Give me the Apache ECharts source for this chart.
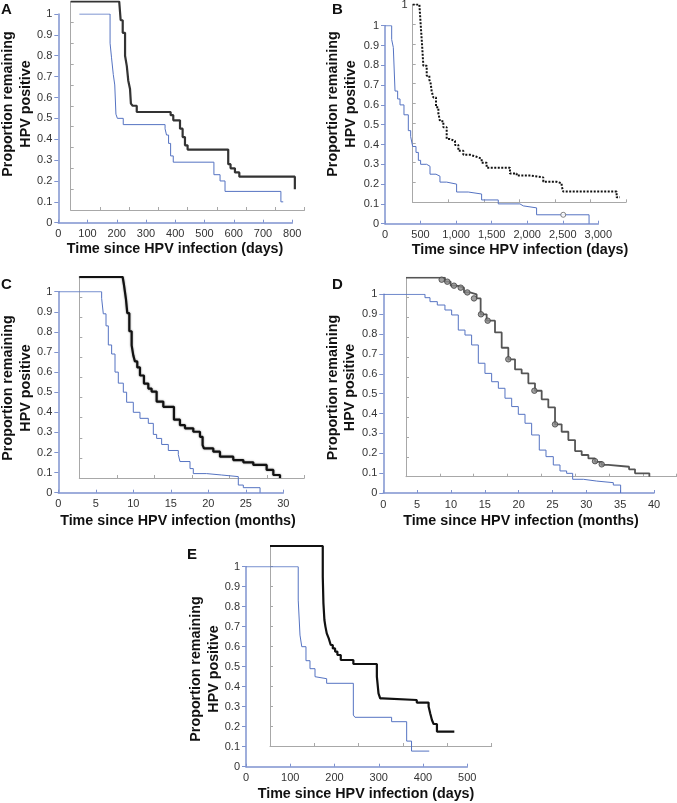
<!DOCTYPE html>
<html><head><meta charset="utf-8">
<script src="https://cdn.jsdelivr.net/npm/echarts@6/dist/echarts.min.js"></script>
<style>html,body{margin:0;padding:0;background:#fff}#c{width:677px;height:803px}</style>
</head><body><div id="c"></div>
<script>
// ---------- DATA ----------
// Panel A (days)
const aBlueT  = [72, 177, 182, 188, 193, 197, 202, 222, 365, 370, 377, 384, 393, 532, 553, 570, 761, 769];
const aBlueS  = [1.00, 0.86, 0.79, 0.71, 0.66, 0.52, 0.50, 0.47, 0.45, 0.42, 0.38, 0.32, 0.29, 0.23, 0.20, 0.15, 0.10, 0.10];
const aBlackT = [0, 166, 171, 178, 186, 192, 197, 203, 206, 212, 226, 342, 351, 374, 383, 391, 400, 539, 547, 562, 577, 767];
const aBlackS = [1.00, 1.00, 0.91, 0.85, 0.74, 0.69, 0.62, 0.58, 0.51, 0.50, 0.47, 0.455, 0.43, 0.39, 0.35, 0.31, 0.29, 0.22, 0.20, 0.18, 0.16, 0.10];
// Panel B (days)
const bBlueT  = [0, 94, 117, 141, 178, 211, 267, 328, 361, 389, 436, 469, 501, 586, 633, 717, 773, 867, 1007, 1171, 1359, 1593, 1898, 1945, 2132, 2870];
const bBlueS  = [1.00, 0.93, 0.89, 0.67, 0.63, 0.60, 0.55, 0.47, 0.44, 0.39, 0.36, 0.32, 0.30, 0.29, 0.25, 0.24, 0.21, 0.20, 0.16, 0.15, 0.12, 0.10, 0.09, 0.08, 0.045, 0];
const bCensT  = [2507];
const bCensS  = [0.045];
const bBlackT = [0, 94, 112, 131, 150, 197, 234, 253, 267, 291, 328, 361, 384, 431, 478, 525, 595, 642, 712, 806, 900, 970, 1040, 1368, 1462, 1649, 1837, 2024, 2095, 2118, 2868, 2915];
const bBlackS = [1.00, 1.00, 0.90, 0.80, 0.69, 0.64, 0.62, 0.60, 0.56, 0.53, 0.48, 0.45, 0.41, 0.38, 0.32, 0.31, 0.29, 0.26, 0.24, 0.23, 0.22, 0.20, 0.175, 0.146, 0.135, 0.126, 0.104, 0.096, 0.082, 0.054, 0.025, 0.025];
// Panel C (months)
const cBlueT  = [0, 5.78, 6.0, 6.36, 6.67, 7.11, 7.56, 8.0, 8.67, 9.11, 10.0, 10.89, 12.0, 12.67, 13.11, 13.78, 14.67, 16.0, 16.22, 17.56, 18.0, 19.78, 21.78, 24.0, 24.67, 26.9];
const cBlueS  = [1.00, 0.967, 0.89, 0.83, 0.735, 0.69, 0.60, 0.545, 0.50, 0.45, 0.40, 0.37, 0.345, 0.29, 0.27, 0.24, 0.21, 0.19, 0.155, 0.12, 0.095, 0.088, 0.08, 0.038, 0.025, 0];
const cBlackT = [0, 5.78, 5.96, 6.22, 6.4, 6.67, 6.98, 7.2, 7.42, 7.73, 8.09, 8.62, 9.2, 9.64, 10.31, 11.2, 12.62, 13.42, 14.09, 15.2, 16.09, 16.44, 16.62, 17.87, 18.76, 20.53, 21.87, 23.2, 24.98, 25.87, 26.76];
const cBlackS = [1.00, 1.00, 0.96, 0.89, 0.82, 0.73, 0.66, 0.61, 0.58, 0.55, 0.51, 0.47, 0.445, 0.43, 0.38, 0.354, 0.29, 0.263, 0.247, 0.23, 0.205, 0.164, 0.147, 0.131, 0.106, 0.089, 0.078, 0.065, 0.04, 0.015, 0.0];
// Panel D (months)
const dBlueT  = [0, 6.16, 6.9, 7.98, 9.11, 10.1, 11.08, 12.07, 13.05, 14.04, 15.02, 16.01, 17.0, 17.98, 18.97, 19.95, 20.94, 21.92, 23.05, 24.04, 25.12, 26.11, 27.09, 27.98, 29.56, 31.53, 33.99, 35.07];
const dBlueS  = [1.00, 0.983, 0.963, 0.946, 0.921, 0.896, 0.82, 0.795, 0.745, 0.653, 0.602, 0.56, 0.527, 0.477, 0.435, 0.396, 0.351, 0.292, 0.216, 0.183, 0.141, 0.111, 0.099, 0.069, 0.06, 0.052, 0.04, 0];
const dBlackT = [0, 5.76, 6.6, 7.49, 8.57, 9.46, 10.44, 11.03, 11.92, 13.15, 14.14, 15.12, 16.11, 17.09, 18.08, 19.06, 20.05, 21.03, 22.02, 23.0, 23.99, 24.98, 25.96, 26.95, 27.93, 28.92, 29.9, 32.96, 33.84, 35.96];
const dBlackS = [1.0, 0.98, 0.96, 0.95, 0.926, 0.916, 0.896, 0.816, 0.784, 0.725, 0.648, 0.59, 0.539, 0.519, 0.469, 0.432, 0.389, 0.348, 0.263, 0.226, 0.184, 0.129, 0.109, 0.092, 0.075, 0.059, 0.05, 0.037, 0.017, 0];
const dCensT  = [5.27, 6.1, 7.09, 8.08, 9.06, 10.05, 11.08, 12.07, 15.12, 18.97, 22.02, 27.93, 28.92];
const dCensS  = [0.99, 0.98, 0.96, 0.95, 0.926, 0.896, 0.816, 0.784, 0.59, 0.432, 0.263, 0.078, 0.062];
// Panel E (days)
const eBlueT  = [0, 118, 122, 126, 135.5, 144.6, 155.9, 159.6, 182.2, 242.5, 246.2, 329, 363, 374, 414];
const eBlueS  = [1.0, 0.833, 0.658, 0.60, 0.53, 0.49, 0.45, 0.44, 0.417, 0.258, 0.247, 0.225, 0.128, 0.078, 0.078];
const eBlackT = [0, 119, 120.5, 122.7, 125, 128, 132.5, 137, 141.6, 146.8, 152, 159.6, 188, 241, 244.7, 248.5, 253.8, 331, 357.7, 361.4, 365.2, 369, 376.5, 415.7];
const eBlackS = [1.0, 0.847, 0.713, 0.63, 0.597, 0.563, 0.538, 0.505, 0.488, 0.472, 0.455, 0.43, 0.41, 0.347, 0.263, 0.238, 0.23, 0.217, 0.197, 0.163, 0.13, 0.11, 0.072, 0.072];

const panelLetters = ['A', 'B', 'C', 'D', 'E'];
const yTitle1 = 'Proportion remaining';
const yTitle2 = 'HPV positive';
const xTitleDays = 'Time since HPV infection (days)';
const xTitleMonths = 'Time since HPV infection (months)';
const xMax = [800, 3000, 30, 40, 500];
const xStep = [100, 500, 5, 5, 100];

// ---------- LAYOUT / STYLE ----------
const FONT = '"Liberation Sans", Arial, Helvetica, sans-serif';
const BLUE = '#5573c2';
const BLUEAX = '#7f93cf';
const GRAY = '#a8a8a8';
const zip = (t, s) => t.map((v, i) => [v, s[i]]);

const panels = [
  {P:[58.3,292.3,222.7,14],  S:[70.7,304.5,210,1.5],  blue:zip(aBlueT,aBlueS), black:zip(aBlackT,aBlackS),
   bstyle:{color:'#333', width:2.2}, letter:[1,2], yt:[8.5,26,104], xt:[175,249,xTitleDays]},
  {P:[385,598.3,223.7,25.7], S:[412.7,626,202.3,4.5], blue:zip(bBlueT,bBlueS), black:zip(bBlackT,bBlackS),
   bstyle:{color:'#111', width:2, type:[2,1.5]}, letter:[332,2], yt:[333.5,351,104], xt:[520,250,xTitleDays],
   comma:true, secTopLabel:true, cens:zip(bCensT,bCensS), censStyle:'open'},
  {P:[58.3,283.3,492.7,291.7], S:[79.3,304.3,478,277], blue:zip(cBlueT,cBlueS), black:zip(cBlackT,cBlackS),
   bstyle:{color:'#111', width:2.2, shadowColor:'rgba(0,0,0,0.45)', shadowBlur:2}, letter:[1,277], yt:[8.5,26.5,388], xt:[178,521,xTitleMonths]},
  {P:[383.3,654,493,294.3], S:[406,676.7,476.7,277.7], blue:zip(dBlueT,dBlueS), black:zip(dBlackT,dBlackS),
   bstyle:{color:'#555', width:1.8}, letter:[332,277], yt:[333,350.5,387.5], xt:[521,521,xTitleMonths],
   cens:zip(dCensT,dCensS), censStyle:'filled'},
  {P:[246,467.3,766.7,566.7], S:[270,491.7,746,546], blue:zip(eBlueT,eBlueS), black:zip(eBlackT,eBlackS),
   bstyle:{color:'#111', width:2.2}, letter:[187,547], yt:[196,214,669], xt:[366,794,xTitleDays]}
];

const grid = [], xAxis = [], yAxis = [], series = [], graphic = [];
panels.forEach((p, i) => {
  const gi = grid.length;
  grid.push({left:p.P[0], top:p.P[3], width:p.P[1]-p.P[0], height:p.P[2]-p.P[3], containLabel:false, outerBoundsMode:'none'});
  grid.push({left:p.S[0], top:p.S[3], width:p.S[1]-p.S[0], height:p.S[2]-p.S[3], containLabel:false, outerBoundsMode:'none'});
  const lab = {color:'#333', fontSize:11, fontFamily:FONT};
  xAxis.push({gridIndex:gi, type:'value', min:0, max:xMax[i], interval:xStep[i], splitLine:{show:false},
    axisLine:{show:true, onZero:false, lineStyle:{color:BLUEAX, width:1.5}},
    axisTick:{show:true, inside:true, length:3, lineStyle:{color:BLUEAX}},
    axisLabel:Object.assign({margin:6, formatter: v => p.comma ? v.toLocaleString('en-US') : String(v)}, lab)});
  yAxis.push({gridIndex:gi, type:'value', min:0, max:1, interval:0.1, splitLine:{show:false},
    axisLine:{show:true, onZero:false, lineStyle:{color:BLUEAX, width:1.5}},
    axisTick:{show:true, inside:false, length:4, lineStyle:{color:BLUEAX}},
    axisLabel:Object.assign({margin:6}, lab)});
  xAxis.push({gridIndex:gi+1, type:'value', min:0, max:xMax[i], interval:xStep[i], splitLine:{show:false},
    axisLine:{show:true, onZero:false, lineStyle:{color:GRAY, width:1}},
    axisTick:{show:true, inside:true, length:3, lineStyle:{color:GRAY}},
    axisLabel:{show:false}});
  yAxis.push({gridIndex:gi+1, type:'value', min:0, max:1, interval:0.1, splitLine:{show:false},
    axisLine:{show:true, onZero:false, lineStyle:{color:GRAY, width:1}},
    axisTick:{show:true, inside:true, length:3, lineStyle:{color:GRAY}},
    axisLabel:p.secTopLabel ? Object.assign({show:true, margin:5, formatter: v => v === 1 ? '1' : ''}, lab) : {show:false}});
  series.push({type:'line', xAxisIndex:gi, yAxisIndex:gi, data:p.blue, step:'end', symbol:'none',
    lineStyle:{color:BLUE, width:1}, silent:true, animation:false, z:2});
  series.push({type:'line', xAxisIndex:gi+1, yAxisIndex:gi+1, data:p.black, step:'end', symbol:'none',
    lineStyle:p.bstyle, silent:true, animation:false, z:3});
  if (p.cens) {
    const onSec = p.censStyle === 'filled';
    series.push({type:'scatter', xAxisIndex:onSec?gi+1:gi, yAxisIndex:onSec?gi+1:gi, data:p.cens,
      symbol:'circle', symbolSize:onSec?5.5:5, silent:true, animation:false, z:4,
      itemStyle: onSec ? {color:'#8a8a8a', borderColor:'#444', borderWidth:1} : {color:'#fff', borderColor:'#666', borderWidth:1}});
  }
  graphic.push({type:'text', x:p.letter[0], y:p.letter[1], style:{text:panelLetters[i], font:'bold 15px '+FONT, fill:'#111', textVerticalAlign:'top'}});
  graphic.push({type:'text', x:p.yt[0], y:p.yt[2], rotation:Math.PI/2, style:{text:yTitle1, font:'bold 14.3px '+FONT, fill:'#111', textAlign:'center', textVerticalAlign:'middle'}});
  graphic.push({type:'text', x:p.yt[1], y:p.yt[2], rotation:Math.PI/2, style:{text:yTitle2, font:'bold 14.3px '+FONT, fill:'#111', textAlign:'center', textVerticalAlign:'middle'}});
  graphic.push({type:'text', x:p.xt[0], y:p.xt[1], style:{text:p.xt[2], font:'bold 14.3px '+FONT, fill:'#111', textAlign:'center', textVerticalAlign:'middle'}});
});

const chart = echarts.init(document.getElementById('c'), null, {renderer:'canvas'});
chart.setOption({animation:false, backgroundColor:'#fff', grid, xAxis, yAxis, series, graphic});
</script>
</body></html>
